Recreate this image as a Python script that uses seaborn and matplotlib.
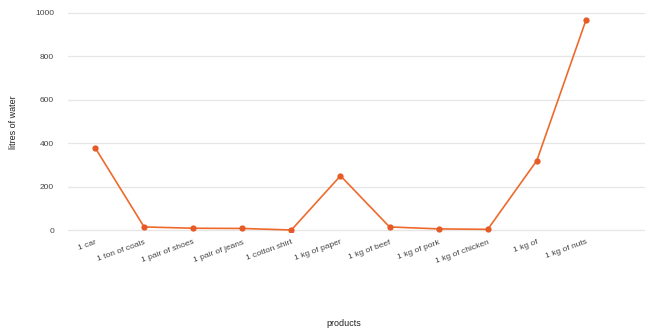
import numpy as np
import pandas as pd
import matplotlib
matplotlib.use("Agg")
import matplotlib.pyplot as plt
import seaborn as sns

products = ["1 car", "1 ton of coals", "1 pair of shoes", "1 pair of jeans",
            "1 cotton shirt", "1 kg of paper", "1 kg of beef", "1 kg of pork",
            "1 kg of chicken", "1 kg of", "1 kg of nuts"]
litres = [380, 15, 9, 8, 1, 250, 15, 6, 4, 320, 965]
y_ticks = [0, 200, 400, 600, 800, 1000]

sns.set_theme(style="white")
plt.rcParams["font.family"] = ["Liberation Sans", "DejaVu Sans"]

df = pd.DataFrame({"pos": np.arange(len(products)), "litres": litres})

fig = plt.figure(figsize=(6.54, 3.29), dpi=100)
ax = fig.add_axes([0.104, 0.295, 0.882, 0.67])

line_color = "#ee6a2c"
sns.lineplot(data=df, x="pos", y="litres", ax=ax, color=line_color,
             linewidth=1.2, marker="o", markersize=4.5,
             markeredgewidth=0, markerfacecolor="#e55a26")

ax.set_xlim(-0.55, 11.2)
ax.set_ylim(-8, 1005)
ax.set_yticks(y_ticks)
ax.set_yticklabels([str(v) for v in y_ticks], fontsize=6, color="#444444")
ax.set_xticks(df["pos"])
ax.set_xticklabels(products, rotation=20, ha="right", rotation_mode="anchor",
                   fontsize=6, color="#444444")
ax.tick_params(axis="both", length=0)
ax.tick_params(axis="y", pad=10)
ax.tick_params(axis="x", pad=5)

ax.grid(axis="y", color="#e6e6e6", linewidth=0.9)
ax.set_axisbelow(True)
for s in ax.spines.values():
    s.set_visible(False)

ax.set_ylabel("litres of water", fontsize=6.5, color="#222222", labelpad=12)
ax.set_xlabel("")
fig.text(0.525, 0.01, "products", fontsize=6.5, color="#222222", ha="center")

fig.savefig("out.png", dpi=100, facecolor="white")
